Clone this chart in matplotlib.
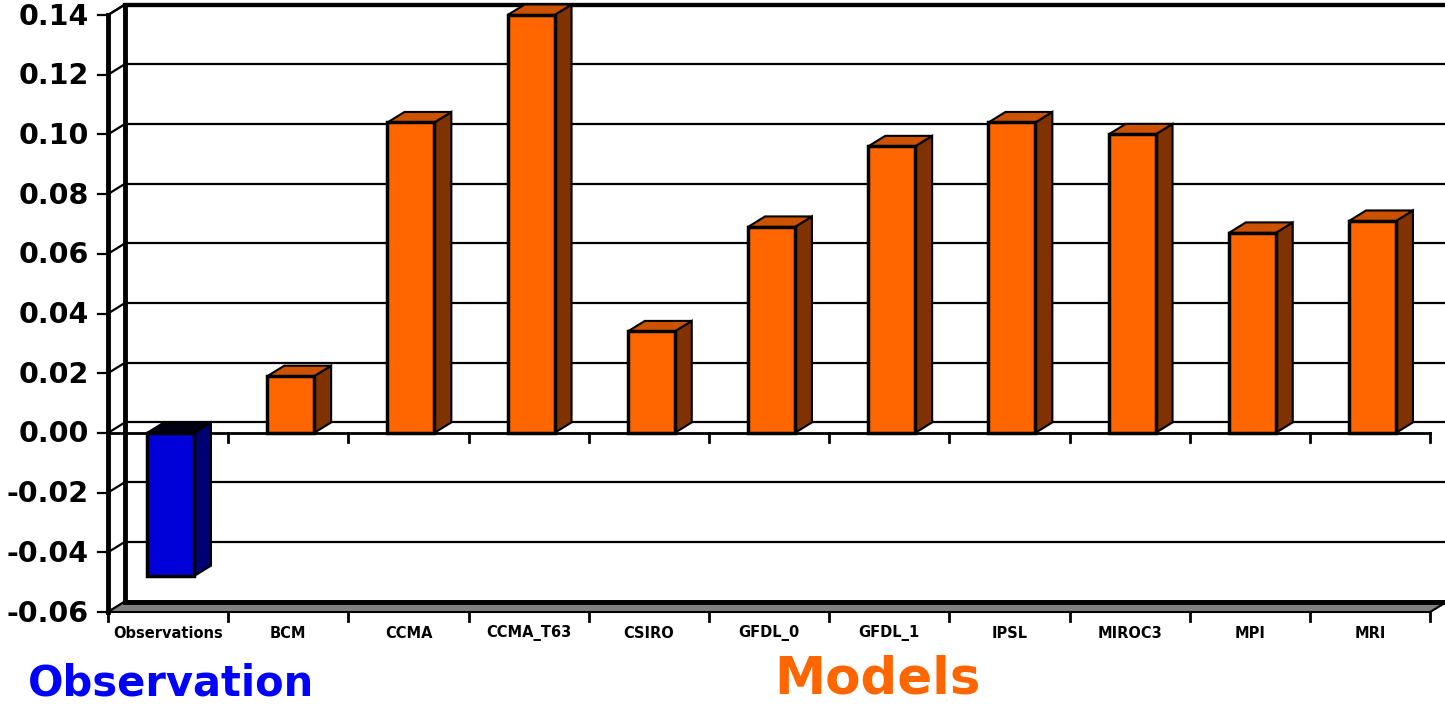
import matplotlib
matplotlib.use("Agg")
import matplotlib.pyplot as plt
from matplotlib.patches import Polygon

# values
categories = ["Observations", "BCM", "CCMA", "CCMA_T63", "CSIRO", "GFDL_0",
              "GFDL_1", "IPSL", "MIROC3", "MPI", "MRI"]
values = [-0.048, 0.019, 0.104, 0.140, 0.034, 0.069, 0.096, 0.104, 0.100, 0.067, 0.071]
is_obs = [True] + [False] * 10
yticks = [-0.06, -0.04, -0.02, 0.00, 0.02, 0.04, 0.06, 0.08, 0.10, 0.12, 0.14]
ytick_labels = [f"{v:.2f}" for v in yticks]

# 3d look: depth offset in data units (px / px-per-unit)
PX_X = 120.2
PX_Y = 2985.0
DX = 17 / PX_X
DY = 10.5 / PX_Y
BAR_W = 0.39
YMIN, YMAX = yticks[0], yticks[-1]
XL = -0.5
XR = len(categories) - 0.5

fig = plt.figure(figsize=(14.45, 7.05), dpi=100)
ax = fig.add_axes([108 / 1445, 93 / 705, 1337 / 1445, 612 / 705])
ax.set_xlim(XL, XL + 1337 / PX_X)
ax.set_ylim(YMIN, YMIN + 612 / PX_Y)
ax.axis("off")

K = dict(clip_on=False)

# back wall gridlines + side wall connectors
for v, lab in zip(yticks, ytick_labels):
    lw = 3 if v == YMAX else 1.6
    ax.plot([XL + DX, XR + DX + 0.2], [v + DY, v + DY], color="black", lw=lw, zorder=1, **K)
    ax.plot([XL, XL + DX], [v, v + DY], color="black", lw=1.6, zorder=1, **K)
    ax.plot([XL - 10 / PX_X, XL], [v, v], color="black", lw=1.6, zorder=5, **K)
    ax.text(XL - 19 / PX_X, v - 1.5 / PX_Y, lab, ha="right", va="center",
            fontsize=20.5, fontweight="heavy", **K)
# back wall left edge
ax.plot([XL + DX, XR + DX], [YMAX + DY, YMAX + DY], color="black", lw=3, zorder=1, **K)
ax.plot([XL + DX, XL + DX], [YMIN + DY, YMAX + DY], color="black", lw=3.5, zorder=1, **K)

# floor
floor = Polygon([(XL, YMIN), (XR, YMIN), (XR + DX, YMIN + DY), (XL + DX, YMIN + DY)],
                closed=True, facecolor="#808080", edgecolor="black", lw=1.5, zorder=2, **K)
ax.add_patch(floor)
ax.plot([XL + DX, XR + DX], [YMIN + DY, YMIN + DY], color="black", lw=3.5, zorder=2, **K)

# category axis at zero (front)
ax.plot([XL, XR], [0, 0], color="black", lw=2, zorder=3, **K)
for i in range(len(categories) + 1):
    x = XL + i
    if i > 0:
        ax.plot([x, x], [0, -9 / PX_Y], color="black", lw=2, zorder=3, **K)
    ax.plot([x, x], [YMIN, YMIN - 9 / PX_Y], color="black", lw=2, zorder=3, **K)
for i, name in enumerate(categories):
    ax.text(i, YMIN - 21 / PX_Y, name, ha="center", va="center",
            fontsize=10.5, fontweight="heavy", **K)

# bars
for i, (v, obs) in enumerate(zip(values, is_obs)):
    if obs:
        front, top, side = "#0000D8", "#000010", "#000070"
    else:
        front, top, side = "#FF6600", "#CC5200", "#803300"
    x0, x1 = i - BAR_W / 2 + 0.02, i + BAR_W / 2 + 0.02
    lo, hi = min(0, v), max(0, v)
    ax.add_patch(Polygon([(x1, lo), (x1 + DX, lo + DY), (x1 + DX, hi + DY), (x1, hi)],
                         facecolor=side, edgecolor="black", lw=1.5, zorder=4))
    ax.add_patch(Polygon([(x0, hi), (x1, hi), (x1 + DX, hi + DY), (x0 + DX, hi + DY)],
                         facecolor=top, edgecolor="black", lw=1.5, zorder=4))
    ax.add_patch(Polygon([(x0, lo), (x1, lo), (x1, hi), (x0, hi)],
                         facecolor=front, edgecolor="black", lw=2.5, zorder=5))

# front value axis
ax.plot([XL, XL], [YMIN, YMAX], color="black", lw=3.5, zorder=6, **K)
ax.plot([XL, XL + DX], [YMAX, YMAX + DY], color="black", lw=1.6, zorder=6, **K)

fig.text(171 / 1445, 22 / 705, "Observation", color="#0000FF", fontsize=30,
         fontweight="heavy", ha="center", va="center")
fig.text(877 / 1445, 1 / 705, "Models", color="#FF6600", fontsize=37,
         fontweight="heavy", ha="center", va="bottom")

fig.savefig("out.png", dpi=100)
